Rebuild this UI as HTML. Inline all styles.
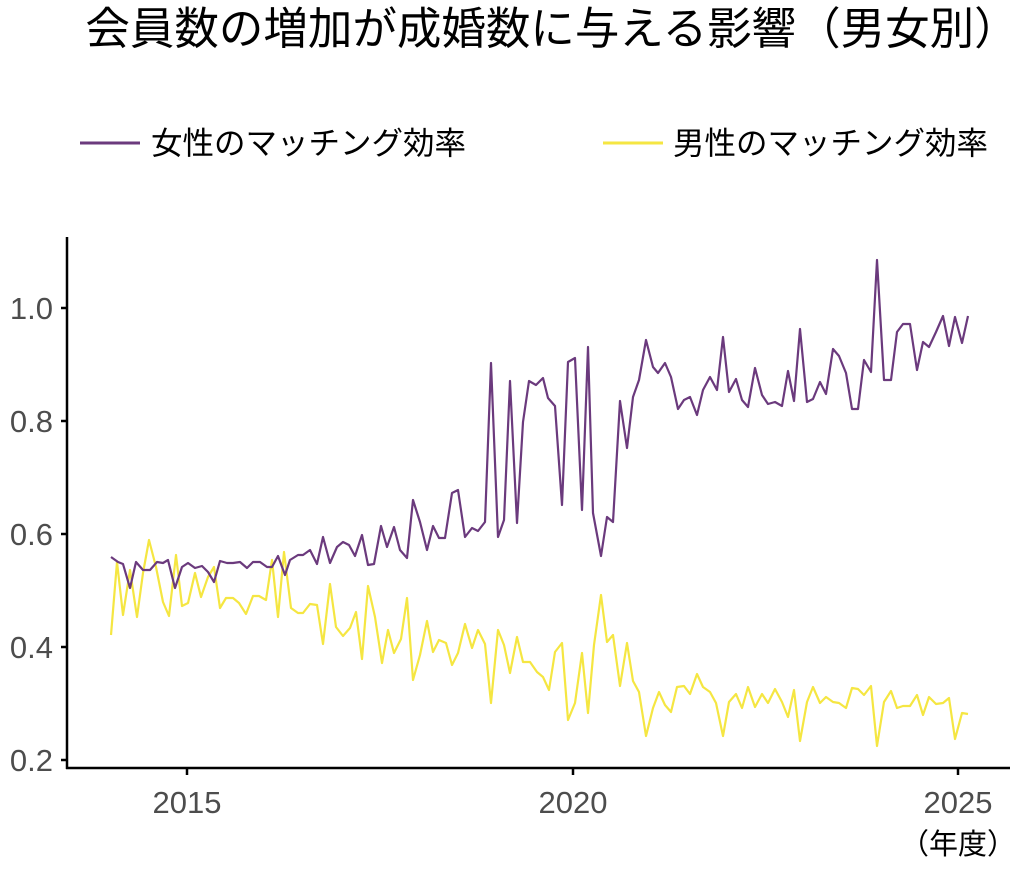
<!DOCTYPE html>
<html><head><meta charset="utf-8"><style>
body{margin:0;background:#fff;}
svg{display:block;font-family:"Liberation Sans","Noto Sans CJK JP",sans-serif;}
</style></head><body>
<svg width="1024" height="874" viewBox="0 0 1024 874">
<text x="552" y="44" font-size="44.5" text-anchor="middle" fill="#000">会員数の増加が成婚数に与える影響（男女別）</text>
<line x1="80" y1="143" x2="140" y2="143" stroke="#6b3a7d" stroke-width="3"/>
<text x="151" y="154" font-size="31.5" fill="#000">女性のマッチング効率</text>
<line x1="603" y1="143" x2="663" y2="143" stroke="#f5e642" stroke-width="3"/>
<text x="673" y="154" font-size="31.5" fill="#000">男性のマッチング効率</text>
<g stroke="#000" stroke-width="2.5" fill="none">
<line x1="67" y1="237" x2="67" y2="769"/>
<line x1="66" y1="768" x2="1010" y2="768"/>
<line x1="61" y1="308" x2="67" y2="308"/><line x1="61" y1="421" x2="67" y2="421"/>
<line x1="61" y1="534" x2="67" y2="534"/><line x1="61" y1="647" x2="67" y2="647"/>
<line x1="61" y1="760" x2="67" y2="760"/>
<line x1="187" y1="768" x2="187" y2="775"/><line x1="573" y1="768" x2="573" y2="775"/><line x1="958" y1="768" x2="958" y2="775"/>
</g>
<g font-size="31" fill="#4d4d4d" text-anchor="end">
<text x="53" y="319">1.0</text><text x="53" y="432">0.8</text><text x="53" y="545">0.6</text><text x="53" y="658">0.4</text><text x="53" y="771">0.2</text>
</g>
<g font-size="31" fill="#4d4d4d" text-anchor="middle">
<text x="187" y="813">2015</text><text x="573" y="813">2020</text><text x="958" y="813">2025</text>
</g>
<text x="958" y="854" font-size="29" fill="#000" text-anchor="middle">（年度）</text>
<polyline fill="none" stroke="#f5e642" stroke-width="2.2" stroke-linejoin="round" points="111,635 117,562 123,615 130,570 137,617 143,573 149,540 156,567 163,602 169,616 176,555 182,606 188,603 195,573 201,597 208,577 214,567 220,608 226,598 233,598 239,603 246,614 253,596 259,596 266,600 272,560 278,617 284,552 291,608 298,613 303,613 310,604 317,605 323,644 330,584 336,627 343,636 350,628 356,612 362,659 368,586 375,617 382,663 388,630 394,653 401,639 407,598 413,680 420,655 427,621 433,652 439,640 446,643 452,665 458,653 465,624 472,648 478,630 485,644 491,703 498,630 504,645 510,673 517,637 523,662 530,662 537,672 543,677 549,690 555,652 562,643 568,720 575,703 582,653 588,713 594,645 601,595 607,642 613,635 620,686 627,643 633,681 639,692 646,736 653,708 659,692 665,705 671,712 677,687 684,686 690,694 697,674 703,687 710,692 716,703 723,736 729,702 736,694 742,708 748,687 755,707 762,694 768,703 775,689 782,702 788,717 794,690 800,741 807,702 813,687 820,703 826,697 833,702 839,703 846,708 852,688 858,689 864,695 871,686 877,746 884,702 891,691 897,708 903,706 910,706 917,695 923,715 929,697 936,704 943,703 949,698 955,739 962,713 968,714"/>
<polyline fill="none" stroke="#6b3a7d" stroke-width="2.2" stroke-linejoin="round" points="111,557 118,562 123,564 130,588 136,562 143,570 150,570 157,562 163,563 168,560 175,588 182,567 188,563 195,568 202,566 208,572 214,582 220,561 227,563 233,563 240,562 247,568 253,562 260,562 267,567 272,567 278,556 285,575 290,560 298,555 303,555 310,550 317,564 323,537 330,563 337,547 343,542 349,545 355,556 362,535 368,565 374,564 381,526 387,547 394,527 400,550 407,558 413,500 420,522 427,550 433,526 439,538 445,538 452,493 458,490 465,537 472,528 478,531 485,522 491,363 498,537 504,520 510,381 517,523 523,422 529,381 536,385 543,378 548,398 555,406 562,505 568,362 575,358 582,510 588,347 593,513 601,556 607,517 613,522 620,401 627,448 633,397 639,380 646,340 653,367 658,373 665,363 671,377 678,409 684,400 690,397 697,415 703,390 710,377 717,390 723,337 729,392 736,379 742,400 748,407 755,368 762,395 768,404 775,402 782,406 788,371 794,401 800,329 807,402 813,399 820,382 826,394 833,349 839,356 846,373 852,409 858,409 864,360 871,372 877,260 884,380 891,380 897,332 903,324 910,324 917,370 923,342 929,347 936,332 943,316 949,346 955,317 962,343 968,316"/>
</svg>
</body></html>
